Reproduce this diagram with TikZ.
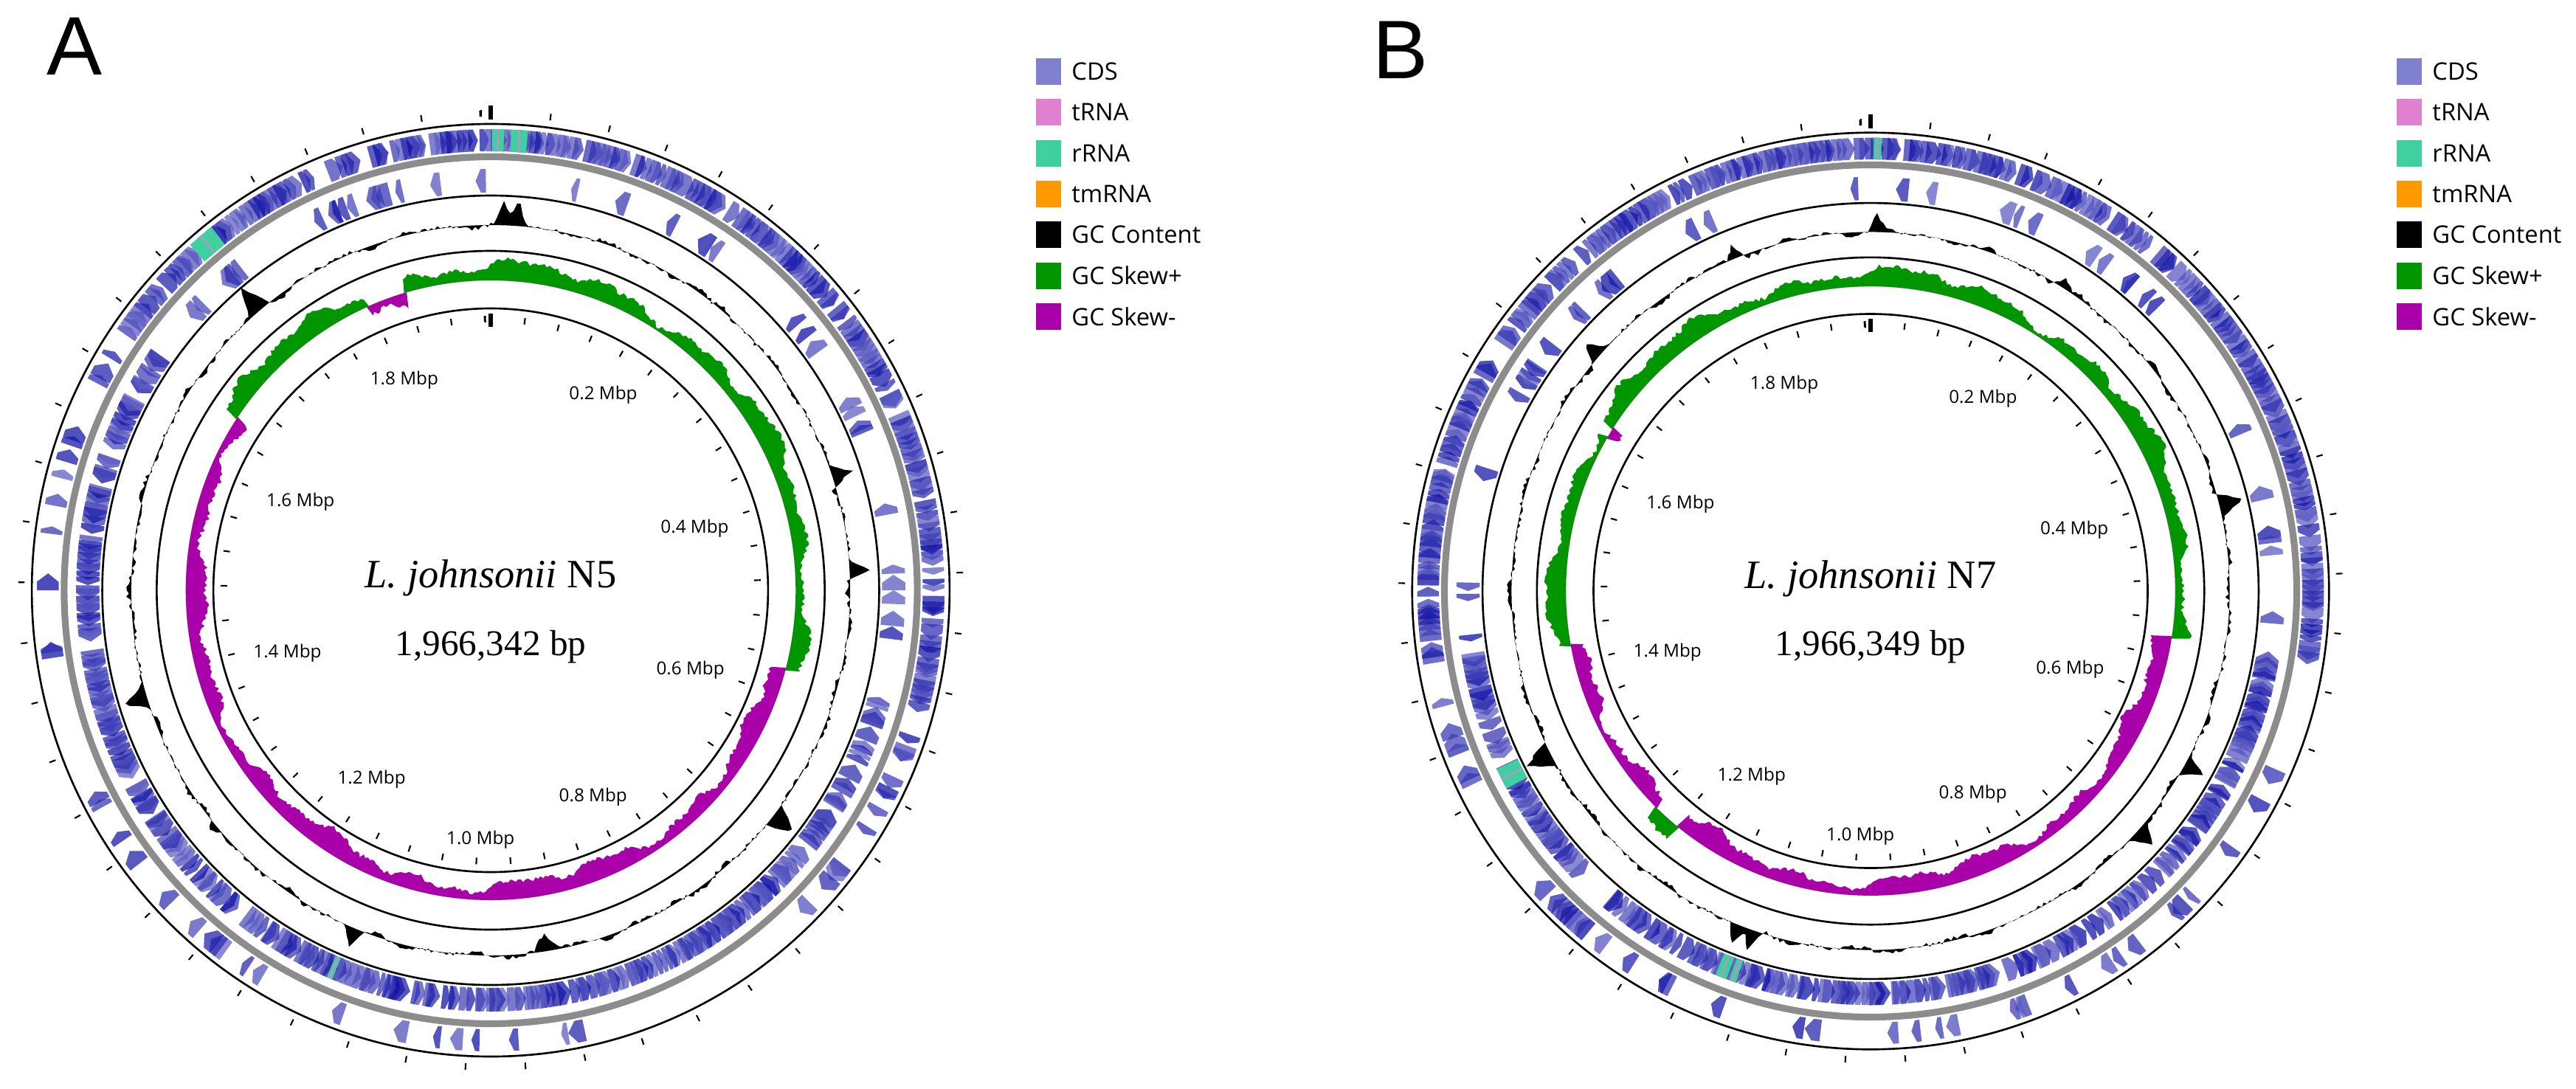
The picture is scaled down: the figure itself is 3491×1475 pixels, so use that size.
\documentclass[tikz,border=0pt]{standalone}
\usepackage{fontspec}
\setmainfont{Liberation Serif}
\newfontfamily\sansf{Open Sans}
\newfontfamily\arialf{Liberation Sans}
\definecolor{cdsblue}{RGB}{15,15,165}
\definecolor{legcds}{RGB}{128,128,208}
\definecolor{legtrna}{RGB}{224,128,208}
\definecolor{rrnac}{RGB}{64,208,160}
\definecolor{tmrnac}{RGB}{255,153,0}
\definecolor{skewp}{RGB}{0,150,0}
\definecolor{skewn}{RGB}{170,0,170}
\definecolor{backbone}{RGB}{140,140,140}
\tikzset{
  ring/.style={line width=0.75pt},
  tick/.style={line width=0.6pt},
  mbp/.style={font=\sansf\fontsize{6.9}{8}\selectfont},
  legtxt/.style={font=\sansf\fontsize{9.3}{11}\selectfont, anchor=west},
  gene/.style={fill=cdsblue!#1!white, fill opacity=0.75},
}
\newcommand\rrnablock[4]{%
  \fill[rrnac] ({#1-90}:#3) -- ({#1+#2-90}:#3) -- ({#1+#2-90}:#4) -- ({#1-90}:#4) -- cycle;
  \draw[legtrna, line width=0.5pt] ({#1+#2/2-90}:#3) -- ({#1+#2/2-90}:#4);
}
\newcommand\genlegend[2]{%
  \foreach \col/\txt [count=\j from 0] in {legcds/CDS,legtrna/tRNA,rrnac/rRNA,tmrnac/tmRNA,black/GC Content,skewp/GC Skew+,skewn/GC Skew-}{
    \fill[\col] (#1,{#2+55.3*\j-18}) rectangle ({#1+34},{#2+55.3*\j+18});
    \node[legtxt] (lg\j) at ({#1+36},{#2+55.3*\j}) {\txt};
  }
}
% #1 cx #2 cy #3 seed #4 sign expr #5 spikes #6 name #7 bp #8 rRNA code #9 scope opts
\newcommand\genome[9]{%
\begin{scope}[shift={(#1,#2)}, #9]
\pgfmathsetseed{#3}
% genes
\foreach \k in {0,...,499}{
  \pgfmathsetmacro\ang{\k*0.72}
  \pgfmathsetmacro\sg{#4}
  \pgfmathsetmacro\uu{rnd}
  \pgfmathsetmacro\pf{\sg>0 ? 0.86 : 0.17}
  \pgfmathsetmacro\wd{0.9+1.3*rnd}
  \pgfmathsetmacro\hd{0.5*\wd}
  \pgfmathtruncatemacro\lv{65+35*rnd}
  \pgfmathsetmacro\aa{\ang-90}
  \pgfmathsetmacro\ab{\ang+\wd-\hd-90}
  \pgfmathsetmacro\ac{\ang+\wd-90}
  \pgfmathsetmacro\ad{\ang+\hd-90}
  \ifdim\uu pt<\pf pt
    \fill[gene=\lv] (\aa:595) -- (\ab:595) -- (\ac:610) -- (\ab:625) -- (\aa:625) -- cycle;
  \else
    \fill[gene=\lv] (\ac:539) -- (\ad:539) -- (\aa:555) -- (\ad:571) -- (\ac:571) -- cycle;
  \fi
}
#8
\draw[backbone, line width=2.6pt] (0,0) circle (587.5);
\draw[ring] (0,0) circle (632);
\draw[ring] (0,0) circle (535);
\draw[ring] (0,0) circle (460);
\draw[ring] (0,0) circle (382);
% GC content and skew
\gdef\lst{}\gdef\lg{}\gdef\lm{}
\foreach \k in {0,...,719}{
  \pgfmathsetmacro\ang{\k*0.5}
  \pgfmathsetmacro\aa{\ang-90}
  \gdef\sp{0}
  \foreach \sc/\sh/\sw in {#5}{
    \pgfmathsetmacro\dd{abs(\ang-\sc)}
    \pgfmathsetmacro\tmp{\sp+max(0,1-\dd/\sw)*\sh}
    \xdef\sp{\tmp}
  }
  \pgfmathsetmacro\rr{495+3*rand+2.5*sin(23*\ang)+2*sin(43*\ang+11)+\sp}
  \xdef\lst{\lst(\aa:\rr)}
  \pgfmathsetmacro\sg{#4}
  \pgfmathsetmacro\am{\sg*(19+6*sin(7*\ang+20)+5*sin(19*\ang+5)+3*sin(41*\ang)+3*rand)}
  \pgfmathsetmacro\rg{420+max(0,\am)}
  \pgfmathsetmacro\rm{420+min(0,\am)}
  \xdef\lg{\lg(\aa:\rg)}
  \xdef\lm{\lm(\aa:\rm)}
}
\edef\cmd{\noexpand\fill[black,even odd rule] (0,0) circle (495) plot coordinates {\lst} -- cycle;
  \noexpand\fill[skewp,even odd rule] (0,0) circle (420) plot coordinates {\lg} -- cycle;
  \noexpand\fill[skewn,even odd rule] (0,0) circle (420) plot coordinates {\lm} -- cycle;}
\cmd
% ticks
\foreach \i in {0,...,49}{
  \pgfmathsetmacro\aa{\i*7.3231-90}
  \draw[tick] (\aa:642) -- (\aa:651);
  \draw[tick] (\aa:372) -- (\aa:363);
}
\draw[line width=1.6pt] (-90:638) -- (-90:657);
\draw[line width=1.6pt] (-90:375) -- (-90:357);
\draw[tick] (-91.3:642) -- (-91.3:650);
\draw[tick] (-91.3:372) -- (-91.3:364);
% labels
\node[mbp] (l18) at (-119,-285) {1.8 Mbp};
\node[mbp] (l02) at (155,-265) {0.2 Mbp};
\node[mbp] (l16) at (-262,-120) {1.6 Mbp};
\node[mbp] (l04) at (281,-84) {0.4 Mbp};
\node[mbp] (l14) at (-280,85) {1.4 Mbp};
\node[mbp] (l06) at (275,108) {0.6 Mbp};
\node[mbp] (l12) at (-164,256) {1.2 Mbp};
\node[mbp] (l08) at (141,280) {0.8 Mbp};
\node[mbp] (l10) at (-14,338) {1.0 Mbp};
\node[font=\fontsize{15.5}{17}\selectfont] (ttl) at (0,-17) {\textit{L. johnsonii} #6};
\node[font=\fontsize{14}{16}\selectfont] (bpl) at (0,77) {#7};
\end{scope}
}
\begin{document}
\begin{tikzpicture}[x=0.01cm,y=-0.01cm]
\useasboundingbox (0,0) rectangle (3491,1475);
\fill[white] (0,0) rectangle (3491,1475);
\node[font=\arialf\fontsize{32}{36}\selectfont] (pa) at (101,63) {A};
\node[font=\arialf\fontsize{32}{36}\selectfont] (pb) at (1898,68) {B};
\genome{665}{800}{11}{ifthenelse(and(or(\ang>=304,\ang<105),not(and(\ang>336,\ang<344))),1,-1)}%
 {2/32/1.3, 4.2/36/1.4, 320/36/2, 72/30/1.8, 87/26/1.5, 128/30/2, 171/-24/2.2, 202/24/1.8, 253/28/1.8, 40/10/2, 230/12/2}%
 {N5}{1,966,342 bp}%
 {\rrnablock{0.2}{1.5}{595}{625}\rrnablock{2.6}{2.1}{595}{625}\rrnablock{318.5}{3.5}{595}{625}\rrnablock{202.5}{0.8}{539}{571}}%
 {xscale=0.984}
\genome{2535}{801}{23}{ifthenelse(or(and(or(\ang>=260,\ang<99),not(and(\ang>300,\ang<302.5))),and(\ang>219,\ang<225)),1,-1)}%
 {1/22/1.5, 338/18/1.5, 311/26/1.8, 32/14/1.8, 76/34/2, 119/28/1.8, 132/30/2, 199/30/1.8, 201.5/26/1.5, 243/36/2.2}%
 {N7}{1,966,349 bp}%
 {\rrnablock{0.4}{1}{595}{625}\rrnablock{241.5}{3}{539}{571}\rrnablock{199}{1}{539}{571}\rrnablock{200.4}{1.6}{539}{571}}%
 {scale=0.983}
\genlegend{1404}{97}
\genlegend{3248}{97}
\end{tikzpicture}
\end{document}
